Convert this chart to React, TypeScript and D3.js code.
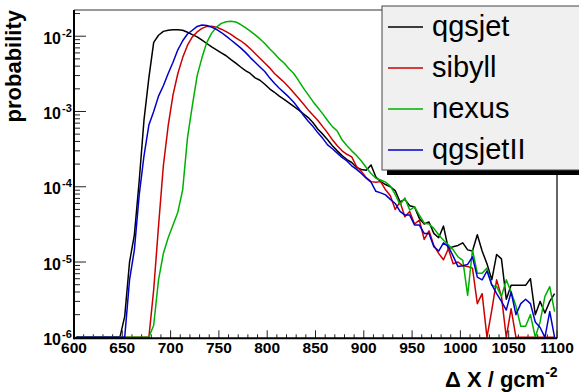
import React from 'react';
import * as d3 from 'd3';

// histogram binning: 100 bins of 5 g/cm2 starting at 600
const binLow = 600;
const binWidth = 5;

// bin contents (probability per bin)
const qgsjet = [
  0, 0, 0, 0, 0, 0, 0, 0, 0, 0,
  1.9e-6, 1.0e-5, 2.3e-5, 1.2e-4, 7.8e-4, 2.8e-3, 8.3e-3, 1.03e-2, 1.16e-2, 1.2e-2,
  1.22e-2, 1.22e-2, 1.2e-2, 1.13e-2, 1.05e-2, 9.8e-3, 8.9e-3, 8.0e-3, 7.2e-3, 6.6e-3,
  6.0e-3, 5.5e-3, 4.9e-3, 4.4e-3, 3.9e-3, 3.5e-3, 3.2e-3, 2.8e-3, 2.6e-3, 2.3e-3,
  2.0e-3, 1.8e-3, 1.6e-3, 1.45e-3, 1.3e-3, 1.17e-3, 1.05e-3, 9.3e-4, 8.3e-4, 7.1e-4,
  5.8e-4, 5.0e-4, 4.2e-4, 3.5e-4, 3.0e-4, 2.6e-4, 2.3e-4, 2.1e-4, 1.8e-4, 1.7e-4,
  1.66e-4, 1.95e-4, 1.35e-4, 1.17e-4, 1.07e-4, 1.0e-4, 8.9e-5, 6.3e-5, 6.8e-5, 5.6e-5,
  5.4e-5, 3.8e-5, 3.2e-5, 3.4e-5, 2.4e-5, 2.1e-5, 3.0e-5, 1.5e-5, 1.6e-5, 1.66e-5,
  1.8e-5, 1.45e-5, 1.4e-5, 2.3e-5, 1.4e-5, 9.5e-6, 5.8e-6, 1.26e-5, 1.1e-5, 3.2e-6,
  4.9e-6, 4.9e-6, 4.9e-6, 4.9e-6, 6.0e-6, 2.0e-6, 3.0e-6, 2.1e-6, 3.0e-6, 3.8e-6,
];

const sibyll = [
  0, 0, 0, 0, 0, 0, 0, 0, 0, 0,
  0, 0, 0, 0, 0, 0, 4.3e-6, 3.0e-5, 1.9e-4, 6.5e-4,
  1.66e-3, 3.2e-3, 5.2e-3, 7.6e-3, 9.8e-3, 1.14e-2, 1.27e-2, 1.35e-2, 1.36e-2, 1.32e-2,
  1.24e-2, 1.15e-2, 1.06e-2, 9.5e-3, 8.7e-3, 7.8e-3, 6.8e-3, 5.9e-3, 5.1e-3, 4.4e-3,
  3.8e-3, 3.2e-3, 2.8e-3, 2.45e-3, 2.1e-3, 1.78e-3, 1.5e-3, 1.26e-3, 1.05e-3, 8.9e-4,
  7.6e-4, 6.3e-4, 5.2e-4, 4.2e-4, 3.5e-4, 3.0e-4, 2.7e-4, 2.5e-4, 1.86e-4, 1.6e-4,
  1.32e-4, 1.17e-4, 1.15e-4, 1.17e-4, 9.1e-5, 7.6e-5, 5.0e-5, 6.3e-5, 4.0e-5, 4.7e-5,
  3.2e-5, 3.6e-5, 2.0e-5, 2.6e-5, 1.66e-5, 1.3e-5, 1.07e-5, 1.5e-5, 9.5e-6, 1.0e-5,
  8.9e-6, 8.7e-6, 8.3e-6, 2.8e-6, 3.8e-6, 0, 2.3e-6, 5.8e-6, 3.5e-6, 0,
  2.4e-6, 0, 0, 0, 0, 0, 0, 0, 0, 0,
];

const nexus = [
  0, 0, 0, 0, 0, 0, 0, 0, 0, 0,
  0, 0, 0, 0, 0, 0, 1.45e-6, 5.8e-6, 1.3e-5, 2.1e-5,
  3.1e-5, 4.6e-5, 9.1e-5, 4.5e-4, 1.2e-3, 3.0e-3, 5.2e-3, 8.3e-3, 1.1e-2, 1.32e-2,
  1.48e-2, 1.56e-2, 1.58e-2, 1.55e-2, 1.43e-2, 1.3e-2, 1.17e-2, 1.04e-2, 9.2e-3, 8.0e-3,
  6.8e-3, 5.9e-3, 5.0e-3, 4.4e-3, 3.7e-3, 3.2e-3, 2.57e-3, 2.04e-3, 1.66e-3, 1.35e-3,
  1.12e-3, 9.3e-4, 7.6e-4, 6.3e-4, 5.5e-4, 4.2e-4, 3.5e-4, 3.0e-4, 2.6e-4, 2.2e-4,
  1.8e-4, 1.5e-4, 1.3e-4, 1.23e-4, 1.15e-4, 1.02e-4, 7.9e-5, 5.8e-5, 7.1e-5, 4.9e-5,
  5.4e-5, 4.2e-5, 3.3e-5, 3.2e-5, 2.8e-5, 2.3e-5, 1.95e-5, 1.7e-5, 1.45e-5, 1.17e-5,
  1.05e-5, 3.6e-6, 1.45e-5, 7.1e-6, 7.1e-6, 8.3e-6, 4.9e-6, 4.7e-6, 3.5e-6, 5.8e-6,
  4.0e-6, 2.6e-6, 1.4e-6, 1.4e-6, 2.0e-6, 0, 1.6e-6, 3.5e-6, 4.7e-6, 2.2e-6,
];

const qgsjetII = [
  0, 0, 0, 0, 0, 0, 0, 0, 0, 0,
  0, 5.8e-6, 1.45e-5, 7.8e-5, 2.6e-4, 6.6e-4, 1.0e-3, 1.6e-3, 2.2e-3, 3.2e-3,
  4.5e-3, 6.6e-3, 8.7e-3, 1.07e-2, 1.2e-2, 1.35e-2, 1.41e-2, 1.39e-2, 1.32e-2, 1.23e-2,
  1.12e-2, 1.0e-2, 8.9e-3, 7.9e-3, 7.0e-3, 6.1e-3, 5.2e-3, 4.5e-3, 3.9e-3, 3.4e-3,
  2.8e-3, 2.37e-3, 2.04e-3, 1.78e-3, 1.55e-3, 1.33e-3, 1.1e-3, 8.9e-4, 7.4e-4, 6.3e-4,
  5.2e-4, 4.4e-4, 3.6e-4, 3.2e-4, 2.8e-4, 2.45e-4, 2.2e-4, 1.9e-4, 1.7e-4, 1.5e-4,
  1.3e-4, 1.15e-4, 8.7e-5, 8.3e-5, 7.8e-5, 6.8e-5, 6.0e-5, 4.7e-5, 4.2e-5, 4.2e-5,
  3.1e-5, 3.1e-5, 2.4e-5, 2.4e-5, 1.6e-5, 1.4e-5, 1.8e-5, 1.6e-5, 1.2e-5, 8.7e-6,
  8.9e-6, 9.3e-6, 1.17e-5, 6.3e-6, 5.8e-6, 7.6e-6, 5.0e-6, 3.8e-6, 3.0e-6, 2.3e-6,
  4.0e-6, 2.0e-6, 2.8e-6, 3.2e-6, 2.8e-6, 1.6e-6, 1.35e-6, 0, 2.2e-6, 0,
];

const seriesNames = ['qgsjet', 'sibyll', 'nexus', 'qgsjetII'];
const seriesData = [qgsjet, sibyll, nexus, qgsjetII];
const seriesColors = ['#000000', '#cc0000', '#00b000', '#0000cc'];

const xTickLabels = ['600', '650', '700', '750', '800', '850', '900', '950', '1000', '1050', '1100'];
const yDecades = [-6, -5, -4, -3, -2];

const FONT = '"Liberation Sans", Arial, Helvetica, sans-serif';

const W = 579;
const H = 392;
const left = 74;
const right = 557;
const top = 10;
const bottom = 337.3;

export default function App() {
  const x = d3.scaleLinear().domain([600, 1100]).range([left, right]);
  const y = d3.scaleLog().domain([1e-6, 0.0223]).range([bottom, top]);
  const yMin = 1e-6;

  const line = d3
    .line<number>()
    .x((_, i) => x(binLow + binWidth * (i + 0.5)))
    .y((d) => y(Math.max(d, yMin)));

  // minor ticks every 10, major every 50
  const xTicks = d3.range(600, 1101, 10);
  const yTicks: { v: number; major: boolean }[] = [];
  yDecades.forEach((d) => {
    for (let k = 1; k <= 9; k++) {
      const v = k * Math.pow(10, d);
      if (v <= 0.0223) yTicks.push({ v, major: k === 1 });
    }
  });

  const legX = 382;
  const legY = 6;
  const legH = 164;
  const rowY0 = 27;
  const rowStep = 41;

  return (
    <svg
      width={W}
      height={H}
      style={{ position: 'absolute', left: 0, top: 0, display: 'block', background: '#fff' }}
      fontFamily={FONT}
    >
      <defs>
        <clipPath id="plot">
          <rect x={left} y={top - 2} width={right - left} height={bottom - top + 3} />
        </clipPath>
      </defs>

      {/* frame */}
      <line x1={left} x2={right} y1={top} y2={top} stroke="#333" strokeWidth={1.2} />
      <line x1={right} x2={right} y1={top} y2={bottom + 1} stroke="#333" strokeWidth={1.5} />

      {/* x axis ticks */}
      {xTicks.map((t) => (
        <line
          key={'xt' + t}
          x1={x(t)}
          x2={x(t)}
          y1={bottom + 1}
          y2={bottom + 1 - (t % 50 === 0 ? 8 : 4)}
          stroke="#222"
          strokeWidth={1}
        />
      ))}
      {/* y axis ticks */}
      {yTicks.map((t, i) => (
        <line
          key={'yt' + i}
          x1={left}
          x2={left + (t.major ? 12 : 6)}
          y1={y(t.v)}
          y2={y(t.v)}
          stroke="#222"
          strokeWidth={1}
        />
      ))}

      {/* series */}
      <g clipPath="url(#plot)">
        {seriesData.map((s, i) => (
          <path
            key={seriesNames[i]}
            d={line(s) || ''}
            fill="none"
            stroke={seriesColors[i]}
            strokeWidth={1.5}
            strokeLinejoin="round"
          />
        ))}
      </g>

      {/* axes lines */}
      <line x1={left} x2={right} y1={bottom + 1} y2={bottom + 1} stroke="#000" strokeWidth={2} />
      <line x1={left} x2={left} y1={top} y2={bottom + 2} stroke="#000" strokeWidth={2} />

      {/* x tick labels */}
      {xTickLabels.map((lab) => (
        <text
          key={'xl' + lab}
          x={x(+lab)}
          y={353}
          textAnchor="middle"
          fontWeight="bold"
          fontSize={15.5}
        >
          {lab}
        </text>
      ))}

      {/* y tick labels */}
      {yDecades.map((d) => (
        <g key={'yl' + d}>
          <text x={61} y={y(Math.pow(10, d)) + 7.5} textAnchor="end" fontWeight="bold" fontSize={16}>
            10
          </text>
          <text x={62} y={y(Math.pow(10, d)) + 0.5} textAnchor="start" fontWeight="bold" fontSize={11}>
            {d}
          </text>
        </g>
      ))}

      {/* axis titles */}
      <text
        transform={`translate(21, ${top}) rotate(-90)`}
        textAnchor="end"
        fontWeight="bold"
        fontSize={22}
      >
        probability
      </text>
      <text x={445} y={387} fontWeight="bold" fontSize={22}>
        {'\u0394 X / gcm'}
        <tspan dy={-10} fontSize={14}>
          -2
        </tspan>
      </text>

      {/* legend */}
      <rect x={legX + 5} y={legY + 5} width={W} height={legH} fill="#000" />
      <rect x={legX} y={legY} width={W} height={legH} fill="#f0f0f0" stroke="#444" strokeWidth={1} />
      {seriesNames.map((n, i) => (
        <g key={'lg' + n}>
          <line
            x1={legX + 6}
            x2={legX + 41}
            y1={rowY0 + i * rowStep}
            y2={rowY0 + i * rowStep}
            stroke={seriesColors[i]}
            strokeWidth={1.5}
          />
          <text x={legX + 50} y={rowY0 + i * rowStep + 8.5} fontSize={29} fill="#000">
            {n}
          </text>
        </g>
      ))}
    </svg>
  );
}
